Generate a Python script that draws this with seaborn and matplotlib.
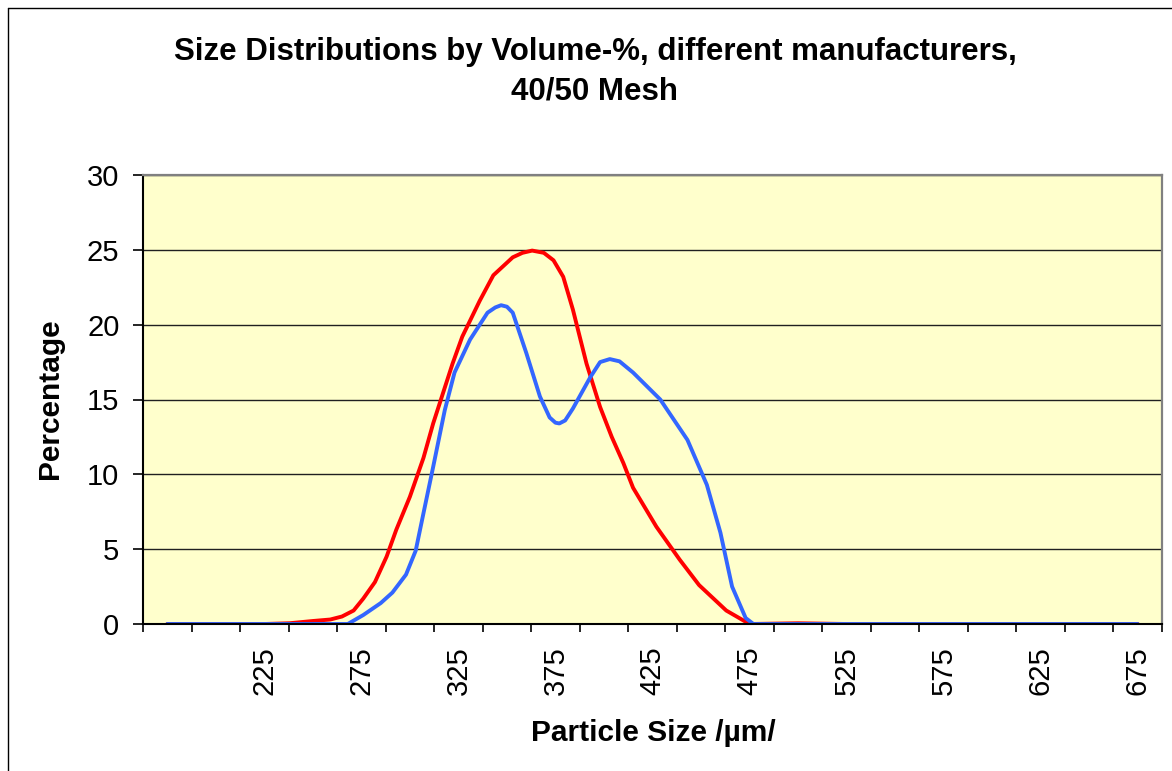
import matplotlib
matplotlib.use("Agg")
import matplotlib.pyplot as plt
import seaborn as sns
import pandas as pd
from matplotlib.lines import Line2D

# ---- data ----
red_x = [175, 200, 225, 238, 250, 259, 265, 271, 276, 282, 288, 293, 300, 307,
         312, 317, 322, 327, 336, 343, 353, 358, 363, 369, 374, 379, 384, 391,
         398, 404, 410, 415, 427, 439, 449, 463, 475, 500, 525, 550, 575, 600,
         625, 650, 675]
red_y = [0, 0, 0, 0.05, 0.2, 0.3, 0.5, 0.9, 1.7, 2.8, 4.5, 6.3, 8.5, 11.1,
         13.4, 15.4, 17.4, 19.2, 21.6, 23.3, 24.5, 24.8, 24.95, 24.8, 24.3, 23.2, 21.0, 17.4,
         14.5, 12.5, 10.75, 9.1, 6.5, 4.3, 2.6, 0.9, 0, 0.05, 0, 0, 0, 0,
         0, 0, 0]

blue_x = [175, 200, 225, 250, 268, 276, 285, 291, 298, 303, 307, 312, 318, 323,
          331, 340, 344, 347, 350, 353, 360, 367, 372, 375, 377, 380, 384, 393,
          398, 403, 408, 415, 429, 443, 453, 460, 466, 473, 477, 500, 525, 550,
          575, 600, 625, 650, 675]
blue_y = [0, 0, 0, 0, 0, 0.6, 1.4, 2.1, 3.3, 4.9, 7.4, 10.5, 14.3, 16.8,
          19.0, 20.8, 21.15, 21.3, 21.2, 20.8, 18.1, 15.2, 13.8, 13.45, 13.4, 13.6, 14.4, 16.5,
          17.5, 17.7, 17.55, 16.8, 15.0, 12.3, 9.3, 6.1, 2.5, 0.4, 0, 0, 0, 0,
          0, 0, 0, 0, 0]

tick_labels = ["225", "275", "325", "375", "425", "475", "525", "575", "625", "675"]
y_ticks = [0, 5, 10, 15, 20, 25, 30]

title_line1 = "Size Distributions by Volume-%, different manufacturers,"
title_line2 = "40/50 Mesh"
x_label = "Particle Size /\u00b5m/"
y_label = "Percentage"

df = pd.concat([
    pd.DataFrame({"size": red_x, "pct": red_y, "series": "A"}),
    pd.DataFrame({"size": blue_x, "pct": blue_y, "series": "B"}),
], ignore_index=True)

# ---- style ----
sns.set_theme(style="white")
plt.rcParams["font.family"] = ["Liberation Sans", "DejaVu Sans"]

W, H = 1172, 771
fig = plt.figure(figsize=(W / 100, H / 100), dpi=100)
fig.patch.set_facecolor("white")
L, R, T, B = 143, 1162, 175, 624
ax = fig.add_axes([L / W, 1 - B / H, (R - L) / W, (B - T) / H])
ax.set_facecolor("#FFFFCC")

sns.lineplot(data=df, x="size", y="pct", hue="series",
             palette={"A": "#FF0000", "B": "#3366FF"},
             estimator=None, sort=False, linewidth=2.8, legend=False, ax=ax)

ax.set_xlim(162.5, 687.5)
ax.set_ylim(0, 30)

# grid
ax.set_yticks(y_ticks)
ax.yaxis.grid(True, color="#202020", linewidth=1.0)
ax.xaxis.grid(False)
ax.set_axisbelow(True)

# x ticks: marks at category boundaries, labels at every other category centre
bounds = [162.5 + 25 * k for k in range(22)]
ax.set_xticks(bounds)
ax.set_xticklabels([""] * len(bounds))
ax.set_xticks([int(t) for t in tick_labels], tick_labels, minor=True)
ax.tick_params(axis="x", which="major", direction="out", length=6, width=1.2,
               color="black", bottom=True)
ax.tick_params(axis="x", which="minor", length=0, pad=16, labelsize=21,
               labelrotation=90, labelcolor="black")
ax.tick_params(axis="y", which="major", direction="out", length=7, width=1.2,
               color="black", left=True, pad=10, labelsize=21, labelcolor="black")

ax.set_xlabel("")
ax.set_ylabel("")

for side in ["left", "bottom"]:
    ax.spines[side].set_color("black")
    ax.spines[side].set_linewidth(1.5)
for side in ["top", "right"]:
    ax.spines[side].set_color("#808080")
    ax.spines[side].set_linewidth(1.6)
for s in ax.spines.values():
    s.set_visible(True)

# texts
fig.text(595 / W, 1 - 52 / H, title_line1, ha="center", va="center",
         fontsize=22.5, fontweight="bold", color="black")
fig.text(595 / W, 1 - 92 / H, title_line2, ha="center", va="center",
         fontsize=22.5, fontweight="bold", color="black")
fig.text(653 / W, 1 - 733 / H, x_label, ha="center", va="center",
         fontsize=21.5, fontweight="bold", color="black")
fig.text(50 / W, 1 - 399 / H, y_label, ha="center", va="center", rotation=90,
         fontsize=21.5, fontweight="bold", color="black")

# chart frame (top and left edges visible)
fx = 8 / W
fy = 1 - 8 / H
fig.add_artist(Line2D([fx, fx], [0, fy], transform=fig.transFigure,
                      color="black", linewidth=1.0))
fig.add_artist(Line2D([fx, 1], [fy, fy], transform=fig.transFigure,
                      color="black", linewidth=1.0))

fig.savefig("out.png", dpi=100, facecolor="white")
